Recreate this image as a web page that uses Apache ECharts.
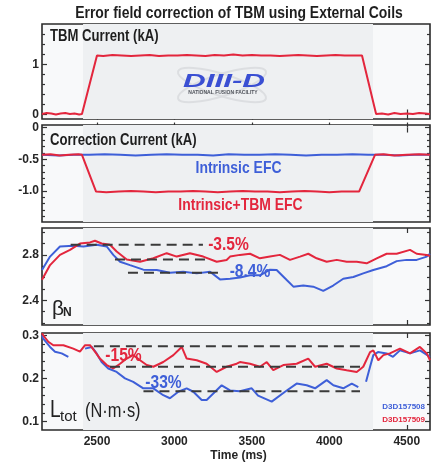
<!DOCTYPE html>
<html><head><meta charset="utf-8">
<script src="https://cdn.jsdelivr.net/npm/echarts@6/dist/echarts.min.js"></script>
<style>html,body{margin:0;padding:0;background:#fff}#c{width:438px;height:465px}</style>
</head><body><div id="c"></div>
<script>
// ---------- data ----------
const timeTicks = [2500, 3000, 3500, 4000, 4500];
const timeTickLabels = ['2500', '3000', '3500', '4000', '4500'];

// Panel 1: TBM current (kA), shot 157509
const tbmTime = [2145,2175,2205,2235,2265,2295,2325,2355,2385,2403,
  2500,2540,2600,2660,2720,2780,2840,2900,2960,3020,3080,3140,3200,3260,3320,3380,3440,3500,3560,3620,3680,3740,3800,3860,3920,3980,4040,4100,4160,4211,
  4302,4340,4380,4420,4460,4500,4540,4580,4620,4650];
const tbmCurrent = [0.01,0.03,0.02,0.00,0.02,0.03,0.01,0.02,0.00,0.01,
  1.18,1.17,1.19,1.18,1.17,1.18,1.19,1.17,1.18,1.18,1.19,1.18,1.17,1.19,1.18,1.20,1.18,1.19,1.18,1.18,1.17,1.18,1.19,1.18,1.17,1.18,1.19,1.18,1.18,1.18,
  0.01,0.02,0.00,0.03,0.01,0.02,0.01,0.03,0.02,0.01];
const tbmTicks = [0, 1];
const tbmTickLabels = ['0', '1'];
const tbmMinor = [0.2, 0.4, 0.6, 0.8, 1.2, 1.4, 1.6];

// Panel 2: correction current (kA)
const efcIntrTime = [2145,2250,2350,2450,2550,2650,2750,2850,2950,3050,3150,3250,3350,3450,3550,3650,3750,3850,3950,4050,4150,4250,4350,4450,4550,4650];
const efcIntr = [-0.43,-0.44,-0.43,-0.43,-0.42,-0.43,-0.44,-0.43,-0.42,-0.43,-0.43,-0.44,-0.42,-0.43,-0.43,-0.42,-0.43,-0.44,-0.43,-0.43,-0.42,-0.43,-0.43,-0.44,-0.43,-0.43];
const efcTbmTime = [2145,2200,2260,2320,2380,2403,2494,
  2560,2640,2720,2800,2880,2960,3040,3120,3200,3280,3360,3440,3520,3600,3680,3760,3840,3920,4000,4080,4160,4192,
  4295,4350,4420,4500,4580,4650];
const efcTbm = [-0.43,-0.42,-0.44,-0.43,-0.42,-0.43,-1.01,
  -1.02,-1.01,-1.00,-1.01,-1.02,-1.01,-1.01,-1.00,-1.01,-1.02,-1.01,-1.00,-1.01,-1.01,-1.02,-1.01,-1.00,-1.01,-1.02,-1.01,-1.01,-1.01,
  -0.43,-0.42,-0.44,-0.43,-0.42,-0.43];
const efcTicks = [0, -0.5, -1.0];
const efcTickLabels = ['0', '-0.5', '-1.0'];
const efcMinor = [-0.1,-0.2,-0.3,-0.4,-0.6,-0.7,-0.8,-0.9,-1.1,-1.2,-1.3,-1.4];

// Panel 3: beta_N
const betaBlueTime = [2145,2197,2261,2347,2412,2498,2563,2605,2649,2713,2799,2886,2971,3057,3144,3230,3294,3359,3423,3488,3552,3617,3660,3725,3768,3832,3896,3961,4025,4090,4155,4219,4284,4370,4435,4499,4564,4629,4650];
const betaBlue = [2.667,2.785,2.874,2.88,2.874,2.89,2.874,2.80,2.74,2.71,2.67,2.667,2.643,2.652,2.637,2.652,2.584,2.59,2.60,2.62,2.62,2.67,2.667,2.578,2.52,2.53,2.52,2.483,2.53,2.59,2.605,2.637,2.667,2.70,2.745,2.756,2.756,2.785,2.81];
const betaRedTime = [2145,2197,2261,2326,2390,2455,2487,2530,2584,2627,2692,2778,2864,2950,3015,3100,3186,3273,3337,3359,3423,3488,3552,3617,3681,3746,3811,3864,3918,3983,4048,4112,4177,4241,4306,4370,4435,4521,4564,4629,4650];
const betaRed = [2.58,2.71,2.80,2.845,2.90,2.91,2.925,2.90,2.89,2.83,2.76,2.74,2.77,2.815,2.785,2.815,2.785,2.74,2.755,2.785,2.80,2.81,2.77,2.785,2.80,2.756,2.785,2.81,2.77,2.74,2.756,2.74,2.74,2.726,2.77,2.81,2.81,2.844,2.81,2.80,2.79];
const betaRefLevel = [2.889, 2.76, 2.643];
const betaRefStart = [2330, 2616, 2700];
const betaRefEnd = [3184, 3210, 3314];
const betaTicks = [2.4, 2.8];
const betaTickLabels = ['2.4', '2.8'];
const betaMinor = [2.2, 2.3, 2.5, 2.6, 2.7, 2.9, 3.0];

// Panel 4: L_tot (N m s)
const ltotBlueTime = [2145,2153,2197,2229,2272,2315,2370,2423,2466,2498,2530,2573,2627,2681,2734,2799,2864,2928,2971,3025,3079,3122,3176,3208,3251,3305,3359,3423,3499,3540,3628,3714,3789,3854,3908,3983,4026,4090,4145,4187,4212,4237,4263,4284,4314,4370,4411,4456,4521,4585,4650];
const ltotBlue = [0.30,0.292,0.273,0.262,0.258,0.250,null,0.269,0.273,0.258,0.238,0.223,0.215,0.200,0.192,0.177,0.177,0.161,0.154,0.169,0.177,0.169,0.150,0.150,0.165,0.184,0.172,0.170,0.177,0.160,0.146,0.169,0.188,0.184,0.177,0.196,0.184,0.177,0.188,0.180,null,0.192,0.227,0.254,0.261,0.258,0.250,0.265,0.258,0.265,0.250];
const ltotRedTime = [2145,2153,2186,2218,2283,2347,2390,2423,2455,2487,2519,2563,2605,2649,2692,2734,2778,2821,2864,2928,2993,3047,3079,3144,3208,3273,3337,3402,3423,3488,3552,3596,3638,3703,3789,3864,3908,3983,4048,4112,4177,4219,4263,4284,4316,4349,4391,4456,4521,4585,4629,4650];
const ltotRed = [0.305,0.30,0.285,0.277,0.277,0.269,0.262,0.277,0.277,0.262,0.246,0.231,0.223,0.234,0.246,0.254,0.242,0.231,0.227,0.238,0.254,0.273,0.246,0.242,0.234,0.215,0.227,0.234,0.238,0.234,0.227,0.238,0.219,0.231,0.234,0.246,0.227,0.234,0.223,0.219,0.215,0.227,0.261,0.265,0.242,0.254,0.258,0.269,0.258,0.273,0.258,0.242];
const ltotRefLevel = [0.2745, 0.227, 0.170];
const ltotRefStart = [2480, 2584, 2800];
const ltotRefEnd = [4435, 4198, 4198];
const ltotTicks = [0.1, 0.2, 0.3];
const ltotTickLabels = ['0.1', '0.2', '0.3'];
const ltotMinor = [0.12,0.14,0.16,0.18,0.22,0.24,0.26,0.28];

// ---------- styling / layout ----------
const RED = '#e3263d', BLUE = '#3e5fd8', INK = '#262626';
const SANS = '"Liberation Sans", Arial, Helvetica, sans-serif';
const NX = 0.82; // horizontal condensing for the narrow lettering
const X_MIN = 2145, X_MAX = 4650;
const panels = [
  {top: 24, height: 95, min: -0.09, max: 1.81, ticks: tbmTicks, labels: tbmTickLabels, minor: tbmMinor},
  {top: 125, height: 97, min: -1.49, max: 0.04, ticks: efcTicks, labels: efcTickLabels, minor: efcMinor},
  {top: 228, height: 97, min: 2.182, max: 3.037, ticks: betaTicks, labels: betaTickLabels, minor: betaMinor},
  {top: 333, height: 97, min: 0.0803, max: 0.3053, ticks: ltotTicks, labels: ltotTickLabels, minor: ltotMinor}
];
const zip = (t, v) => t.map((x, i) => [x, v[i]]);
const tickStyle = {color: '#333', width: 1.2};

const grid = [], xAxis = [], yAxis = [], series = [];
panels.forEach((p, g) => {
  grid.push({left: 42, right: 8, top: p.top, height: p.height, show: true,
    backgroundColor: '#f8f9fa', borderColor: '#2a2a2a', borderWidth: 1.6,
    containLabel: false, outerBoundsMode: 'none'});
  ['bottom', 'top'].forEach((pos, k) => {
    xAxis.push({type: 'value', gridIndex: g, position: pos, min: X_MIN, max: X_MAX,
      axisLine: {show: false}, splitLine: {show: false},
      axisTick: {show: true, inside: true, length: 5, customValues: timeTicks, lineStyle: tickStyle},
      axisLabel: {show: g === 3 && k === 0, customValues: timeTicks, margin: 6,
        formatter: v => timeTickLabels[timeTicks.indexOf(v)] || '',
        color: INK, fontFamily: SANS, fontWeight: 'bold', fontSize: 12}});
  });
  ['left', 'right'].forEach(pos => {
    yAxis.push({type: 'value', gridIndex: g, position: pos, min: p.min, max: p.max,
      axisLine: {show: false}, splitLine: {show: false},
      axisTick: {show: true, inside: true, length: 5, customValues: p.ticks, lineStyle: tickStyle},
      axisLabel: {show: pos === 'left', customValues: p.ticks, margin: 3,
        formatter: v => { let best = 0; p.ticks.forEach((t, i) => { if (Math.abs(t - v) < Math.abs(p.ticks[best] - v)) best = i; }); return p.labels[best]; },
        color: INK, fontFamily: SANS, fontWeight: 'bold', fontSize: 12}});
    yAxis.push({type: 'value', gridIndex: g, position: pos, min: p.min, max: p.max,
      axisLine: {show: false}, splitLine: {show: false},
      axisTick: {show: true, inside: true, length: 3, customValues: p.minor, lineStyle: tickStyle},
      axisLabel: {show: false}});
  });
  // shaded region
  series.push({type: 'line', xAxisIndex: 2 * g, yAxisIndex: 4 * g, data: [[X_MIN, null]], z: 0, silent: true,
    markArea: {silent: true, itemStyle: {color: '#eef0f2'}, data: [[{xAxis: 2410}, {xAxis: 4282}]]}});
});

function line(g, data, color, width, z) {
  return {type: 'line', xAxisIndex: 2 * g, yAxisIndex: 4 * g, data, showSymbol: false, symbol: 'none',
    lineStyle: {color, width: width || 2}, itemStyle: {color}, z: z || 3, silent: true, animation: false};
}
function dashes(g, level, start, end) {
  level.forEach((lv, i) => {
    const s = line(g, [[start[i], lv], [end[i], lv]], '#3a3a3a', 2, 5);
    s.lineStyle.type = [10, 6];
    series.push(s);
  });
}
series.push(line(0, zip(tbmTime, tbmCurrent), RED));
series.push(line(1, zip(efcIntrTime, efcIntr), BLUE));
series.push(line(1, zip(efcTbmTime, efcTbm), RED));
series.push(line(2, zip(betaBlueTime, betaBlue), BLUE));
series.push(line(2, zip(betaRedTime, betaRed), RED));
dashes(2, betaRefLevel, betaRefStart, betaRefEnd);
series.push(line(3, zip(ltotBlueTime, ltotBlue), BLUE));
series.push(line(3, zip(ltotRedTime, ltotRed), RED));
dashes(3, ltotRefLevel, ltotRefStart, ltotRefEnd);

function txt(x, y, text, font, fill, align, sx) {
  return {type: 'text', x, y, z: 100, silent: true, scaleX: sx || 1, scaleY: 1,
    style: {text, font, fill, align: align || 'left', textAlign: align || 'left', verticalAlign: 'middle', textVerticalAlign: 'middle'}};
}
const graphic = [
  // logo
  {type: 'ellipse', x: 222, y: 85, rotation: 0.3, shape: {cx: 0, cy: 0, rx: 46, ry: 11}, style: {fill: 'none', stroke: '#dcdee1', lineWidth: 2}, z: 50, silent: true},
  {type: 'ellipse', x: 222, y: 85, rotation: -0.3, shape: {cx: 0, cy: 0, rx: 46, ry: 11}, style: {fill: 'none', stroke: '#dcdee1', lineWidth: 2}, z: 50, silent: true},
  txt(224, 82, 'DIII-D', 'italic bold 18px ' + SANS, '#3a4fd3', 'center', 1.75),
  txt(223, 93, 'NATIONAL FUSION FACILITY', 'bold 5px ' + SANS, '#50545c', 'center'),
  // titles
  txt(239, 13, 'Error field correction of TBM using External Coils', 'bold 17px ' + SANS, '#1e1e1e', 'center', NX),
  txt(50, 37, 'TBM Current (kA)', 'bold 16px ' + SANS, '#1e1e1e', 'left', NX),
  txt(50, 141, 'Correction Current (kA)', 'bold 16px ' + SANS, '#1e1e1e', 'left', NX),
  txt(238.5, 168.5, 'Intrinsic EFC', 'bold 17px ' + SANS, BLUE, 'center', NX),
  txt(240.5, 205, 'Intrinsic+TBM EFC', 'bold 17px ' + SANS, RED, 'center', NX),
  txt(228.5, 245, '-3.5%', 'bold 19px ' + SANS, RED, 'center', NX),
  txt(250, 271.5, '-8.4%', 'bold 19px ' + SANS, BLUE, 'center', NX),
  txt(52, 309, 'β', '21px ' + SANS, '#222', 'left'),
  txt(63, 313, 'N', 'bold 12px ' + SANS, '#222', 'left'),
  txt(123.5, 355.5, '-15%', 'bold 19px ' + SANS, RED, 'center', NX),
  txt(163.5, 382.5, '-33%', 'bold 19px ' + SANS, BLUE, 'center', NX),
  txt(50, 410, 'L', '24px ' + SANS, '#222', 'left', 0.8),
  txt(60, 417, 'tot', '15px ' + SANS, '#222', 'left'),
  txt(85, 411, '(N·m·s)', '20px ' + SANS, '#222', 'left', NX),
  txt(425, 407, 'D3D157508', 'bold 8px ' + SANS, BLUE, 'right'),
  txt(425, 420, 'D3D157509', 'bold 8px ' + SANS, RED, 'right'),
  txt(238.5, 456, 'Time (ms)', 'bold 12px ' + SANS, INK, 'center')
];

const chart = echarts.init(document.getElementById('c'), null, {renderer: 'canvas'});
chart.setOption({animation: false, backgroundColor: '#ffffff', grid, xAxis, yAxis, series, graphic});
</script>
</body></html>
